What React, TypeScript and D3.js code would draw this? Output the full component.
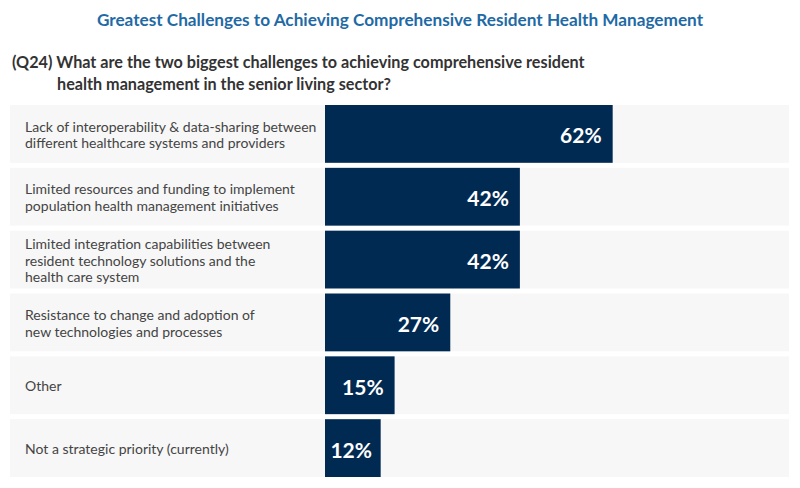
import * as d3 from 'd3';

const categories = [
  ['Lack of interoperability & data-sharing between', 'different healthcare systems and providers'],
  ['Limited resources and funding to implement', 'population health management initiatives'],
  ['Limited integration capabilities between', 'resident technology solutions and the', 'health care system'],
  ['Resistance to change and adoption of', 'new technologies and processes'],
  ['Other'],
  ['Not a strategic priority (currently)'],
];
const values = [62, 42, 42, 27, 15, 12];

const title = 'Greatest Challenges to Achieving Comprehensive Resident Health Management';
const questionLines = [
  '(Q24) What are the two biggest challenges to achieving comprehensive resident',
  'health management in the senior living sector?',
];

const width = 800;
const height = 488;
const font = 'Lato, "Open Sans", sans-serif';

export default function App() {
  const y = d3
    .scaleBand<number>()
    .domain(d3.range(values.length))
    .range([105, 477])
    .paddingInner(0.08);
  const x = d3.scaleLinear().domain([0, 100]).range([325, 789]);
  const lineH = 16.8;

  return (
    <svg
      width={width}
      height={height}
      style={{ position: 'absolute', left: 0, top: 0, background: '#fff' }}
    >
      <text
        x={400}
        y={26}
        textAnchor="middle"
        fontFamily={font}
        fontWeight={700}
        fontSize={17.2}
        fill="#1f6aa5"
      >
        {title}
      </text>
      <text x={12} y={68} fontFamily={font} fontWeight={700} fontSize={16.2} fill="#333">
        {questionLines[0]}
      </text>
      <text x={57} y={90} fontFamily={font} fontWeight={700} fontSize={16.2} fill="#333">
        {questionLines[1]}
      </text>
      {values.map((v, i) => {
        const y0 = y(i)!;
        const bw = y.bandwidth();
        const cy = y0 + bw / 2;
        const lines = categories[i];
        const firstY = cy - ((lines.length - 1) * lineH) / 2;
        const xe = x(v);
        const tx = Math.max(xe - 11, x(0) + 8 + 39);
        return (
          <g key={i}>
            <rect x={10} y={y0} width={779} height={bw} fill="#f7f7f7" />
            <rect x={x(0)} y={y0} width={xe - x(0)} height={bw} fill="#012a53" />
            <text fontFamily={font} fontSize={14} fill="#444" dominantBaseline="central">
              {lines.map((l, j) => (
                <tspan key={j} x={25} y={firstY + j * lineH}>
                  {l}
                </tspan>
              ))}
            </text>
            <text
              x={tx}
              y={cy + 1}
              textAnchor="end"
              dominantBaseline="central"
              fontFamily={font}
              fontWeight={700}
              fontSize={21}
              fill="#fff"
            >
              {v}%
            </text>
          </g>
        );
      })}
    </svg>
  );
}
